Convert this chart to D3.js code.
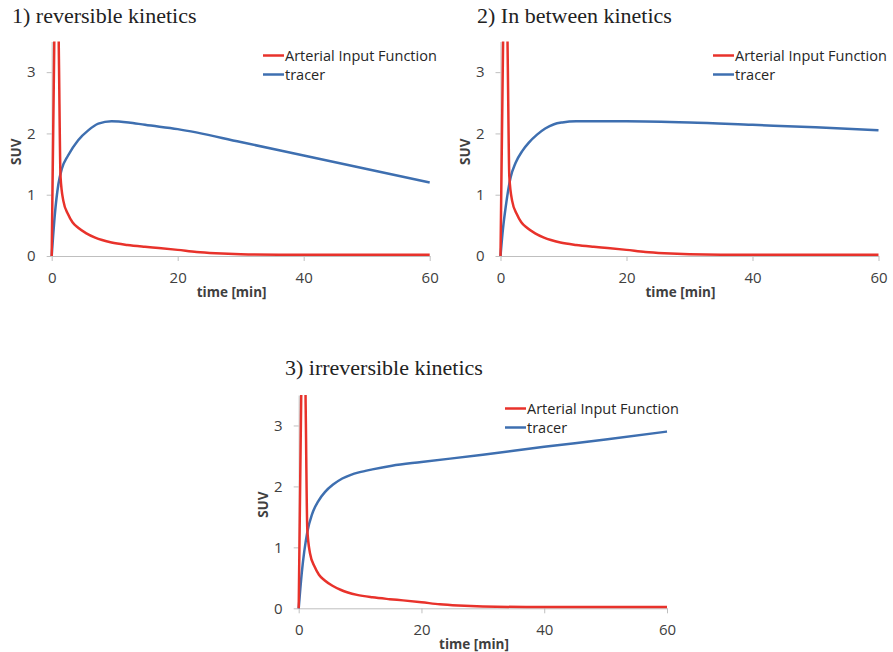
<!DOCTYPE html>
<html>
  <head>
    <meta charset="utf-8">
    <title>Tracer kinetics</title>
    <script src="https://cdn.jsdelivr.net/npm/d3@7"></script>
    <style>
      body { margin: 0; background: #fff; }
      .tick text { font-family: "Open Sans", sans-serif; font-size: 15px; fill: #404040; }
      .domain, .tick line { stroke: #bfbfbf; }
    </style>
  </head>
  <body>
    <script>
    // shared ticks and labels
    var xTicks = [0, 20, 40, 60];
    var yTicks = [0, 1, 2, 3];
    var seriesNames = ["Arterial Input Function", "tracer"];
    var titles = ["1) reversible kinetics", "2) In between kinetics", "3) irreversible kinetics"];

    // arterial input function (same in all three plots)
    var aifTime = [0, 0.4, 0.8, 1.15, 1.4, 1.85, 2.6, 3.3, 4.2, 5.5, 6.9, 8, 9.5, 12, 14.8, 17, 20, 23, 26, 30, 40, 50, 60];
    var aifSuv  = [0, 3.4, 6, 3.2, 1.3, 0.9, 0.68, 0.55, 0.46, 0.37, 0.3, 0.26, 0.22, 0.18, 0.15, 0.13, 0.1, 0.065, 0.045, 0.03, 0.02, 0.02, 0.02];

    // tracer curves
    var time1   = [0, 0.5, 1.06, 1.6, 2.6, 4.2, 5.8, 7.4, 9.5, 12.2, 14.8, 20, 30, 40, 50, 60];
    var tracer1 = [0, 0.68, 1.17, 1.42, 1.64, 1.89, 2.05, 2.16, 2.2, 2.18, 2.14, 2.07, 1.86, 1.64, 1.42, 1.2];

    var time2   = [0, 0.4, 0.8, 1.6, 2.4, 3.5, 4.5, 5.8, 7.1, 8.5, 9.8, 12, 15, 20, 30, 40, 50, 60];
    var tracer2 = [0, 0.45, 0.78, 1.28, 1.52, 1.72, 1.85, 1.98, 2.08, 2.15, 2.18, 2.2, 2.2, 2.2, 2.18, 2.14, 2.1, 2.05];

    var time3   = [0, 0.5, 1.4, 2.2, 3.2, 4.3, 5.6, 7.1, 8.5, 9.8, 12, 15.2, 20, 30, 40, 50, 60];
    var tracer3 = [0, 0.58, 1.25, 1.55, 1.76, 1.91, 2.03, 2.13, 2.19, 2.23, 2.28, 2.34, 2.4, 2.52, 2.65, 2.77, 2.9];

    var red = "#e8322b", blue = "#3e6fb0";

    var svg = d3.select("body").append("svg")
      .attr("width", 893)
      .attr("height", 652);

    // plot boxes
    var panels = [
      {title: titles[0], tx: 12,  ty: 23,  x0: 51.7,  x1: 429.7, yb: 256,   yt: 41.5, lx: 263, ly: 55.5,  t: time1, v: tracer1},
      {title: titles[1], tx: 477, ty: 23,  x0: 500.5, x1: 878.5, yb: 256,   yt: 41.5, lx: 713, ly: 55.5,  t: time2, v: tracer2},
      {title: titles[2], tx: 285, ty: 375, x0: 298.7, x1: 667,   yb: 608.3, yt: 395,  lx: 505, ly: 408.5, t: time3, v: tracer3}
    ];

    panels.forEach(function(p, i) {
      var x = d3.scaleLinear().domain([0, 60]).range([p.x0, p.x1]);
      var y = d3.scaleLinear().domain([0, 3.5]).range([p.yb, p.yt]);

      svg.append("text")
        .attr("x", p.tx).attr("y", p.ty)
        .attr("font-family", "Liberation Serif, Times New Roman, serif")
        .attr("font-size", "22px")
        .attr("fill", "#222")
        .text(p.title);

      svg.append("g")
        .attr("transform", "translate(0," + p.yb + ")")
        .call(d3.axisBottom(x).tickValues(xTicks).tickSize(5).tickPadding(11).tickSizeOuter(0));

      svg.append("g")
        .attr("transform", "translate(" + p.x0 + ",0)")
        .call(d3.axisLeft(y).tickValues(yTicks).tickFormat(d3.format("d")).tickSize(5).tickPadding(11).tickSizeOuter(0));

      svg.append("text")
        .attr("transform", "translate(" + (p.x0 - 31) + "," + ((p.yb + p.yt) / 2 + 3) + ") rotate(-90)")
        .attr("text-anchor", "middle")
        .attr("font-family", "Open Sans, sans-serif")
        .attr("font-weight", "bold")
        .attr("font-size", "13.5px")
        .attr("fill", "#404040")
        .text("SUV");

      svg.append("text")
        .attr("x", p.x0 + (p.x1 - p.x0) * 0.476)
        .attr("y", p.yb + 41)
        .attr("text-anchor", "middle")
        .attr("font-family", "Open Sans, sans-serif")
        .attr("font-weight", "bold")
        .attr("font-size", "13.5px")
        .attr("fill", "#404040")
        .text("time [min]");

      svg.append("clipPath").attr("id", "clip" + i)
        .append("rect")
        .attr("x", p.x0 - 3).attr("y", p.yt)
        .attr("width", p.x1 - p.x0 + 6).attr("height", p.yb - p.yt + 3);

      var line = d3.line()
        .x(function(d) { return x(d[0]); })
        .y(function(d) { return y(d[1]); })
        .curve(d3.curveMonotoneX);

      var g = svg.append("g").attr("clip-path", "url(#clip" + i + ")");

      g.append("path")
        .datum(d3.zip(p.t, p.v))
        .attr("d", line)
        .attr("fill", "none")
        .attr("stroke", blue)
        .attr("stroke-width", 2.5);

      g.append("path")
        .datum(d3.zip(aifTime, aifSuv))
        .attr("d", line)
        .attr("fill", "none")
        .attr("stroke", red)
        .attr("stroke-width", 2.5);

      // legend
      var leg = svg.append("g").attr("transform", "translate(" + p.lx + "," + p.ly + ")");
      [red, blue].forEach(function(c, k) {
        leg.append("line")
          .attr("x1", 0).attr("x2", 21)
          .attr("y1", k * 19).attr("y2", k * 19)
          .attr("stroke", c).attr("stroke-width", 2.5);
        leg.append("text")
          .attr("x", 22).attr("y", k * 19 + 5)
          .attr("font-family", "Open Sans, sans-serif")
          .attr("font-size", "14.5px")
          .attr("fill", "#262626")
          .text(seriesNames[k]);
      });
    });
    </script>
  </body>
</html>
